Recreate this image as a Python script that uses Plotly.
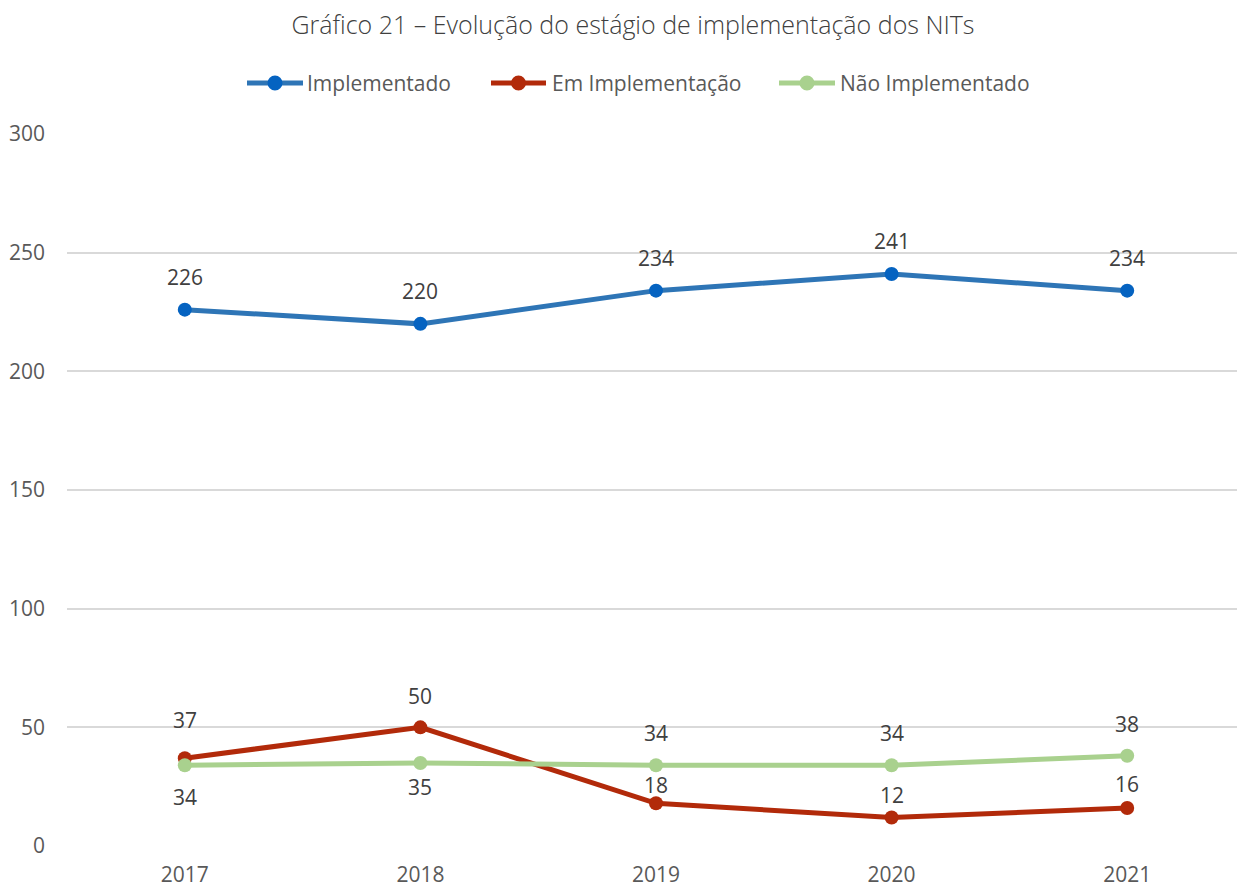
import plotly.graph_objects as go

years = ["2017", "2018", "2019", "2020", "2021"]
implementado = [226, 220, 234, 241, 234]
em_implementacao = [37, 50, 18, 12, 16]
nao_implementado = [34, 35, 34, 34, 38]
y_ticks = [0, 50, 100, 150, 200, 250, 300]

# label offsets in pixels (style only), positive = above the point
off_impl = [33, 33, 33, 33, 33]
off_em = [38, 31, 18, 23, 24]
off_nao = [-32, -24, 32, 32, 32]

FONT = "Open Sans, Noto Sans, sans-serif"
xs = list(range(len(years)))

# plot area geometry (pixels in the page)
W, H = 1245, 890
ML, MR, MT, MB = 59, 8, 126, 52
PAGE_OFF = 8
PX0 = PAGE_OFF + ML
PW = W - ML - MR
PY1 = PAGE_OFF + MT
PH = H - MT - MB


def px_x(p):
    return (p - PX0) / PW


def px_y(p):
    return (PY1 + PH - p) / PH


fig = go.Figure()
series = [
    ("Implementado", implementado, "#2E75B6", "#0563C1", off_impl),
    ("Em Implementação", em_implementacao, "#B22A0A", "#B22A0A", off_em),
    ("Não Implementado", nao_implementado, "#A9D18E", "#A9D18E", off_nao),
]
# legend layout (page pixels): line start, line end, text start
legend_pos = [(247, 303, 306), (491, 546, 551), (779, 835, 839)]
legend_y = 83

annotations = []
shapes = []
for (name, vals, lc, mc, offs), (lx0, lx1, tx) in zip(series, legend_pos):
    fig.add_trace(go.Scatter(
        x=xs, y=vals, name=name, mode="lines+markers",
        line=dict(color=lc, width=5), marker=dict(color=mc, size=14),
        cliponaxis=False, showlegend=False))
    for xi, v, o in zip(xs, vals, offs):
        annotations.append(dict(
            x=xi, y=v, xref="x", yref="y", text=str(v), showarrow=False,
            xanchor="center", yanchor="middle", yshift=o,
            font=dict(family=FONT, size=21, color="#404040")))
    # custom legend entry
    yl = px_y(legend_y)
    shapes.append(dict(type="line", xref="paper", yref="paper",
                       x0=px_x(lx0), x1=px_x(lx1), y0=yl, y1=yl,
                       line=dict(color=lc, width=5)))
    xm = px_x((lx0 + lx1) / 2)
    shapes.append(dict(type="circle", xref="paper", yref="paper",
                       xsizemode="pixel", ysizemode="pixel",
                       xanchor=xm, yanchor=yl, x0=-7.5, x1=7.5, y0=-7.5, y1=7.5,
                       fillcolor=mc, line=dict(width=0)))
    annotations.append(dict(
        x=px_x(tx), y=yl, xref="paper", yref="paper", text=name, showarrow=False,
        xanchor="left", yanchor="middle", borderpad=0,
        font=dict(family=FONT, size=21, color="#595959")))

fig.update_layout(
    width=W, height=H,
    paper_bgcolor="white", plot_bgcolor="white",
    margin=dict(l=ML, r=MR, t=MT, b=MB),
    annotations=annotations,
    shapes=shapes,
    showlegend=False,
    title=dict(text="Gráfico 21 – Evolução do estágio de implementação dos NITs",
               x=0.502, xref="container", xanchor="center", y=0.981, yref="container", yanchor="middle",
               font=dict(family=FONT, size=25, color="#404040", weight=300)),
    xaxis=dict(range=[-0.5, 4.5], tickvals=xs, ticktext=years, showgrid=False,
               zeroline=False, showline=False, ticks="", ticklabelstandoff=14, automargin=False,
               tickfont=dict(family=FONT, size=21, color="#595959")),
    yaxis=dict(range=[0, 300], tickvals=y_ticks, showgrid=True, gridcolor="#D9D9D9", gridwidth=1.5,
               zeroline=False, showline=False, ticks="", ticklabelstandoff=21, automargin=False,
               tickfont=dict(family=FONT, size=21, color="#595959")),
)

fig.write_html("out.html")
